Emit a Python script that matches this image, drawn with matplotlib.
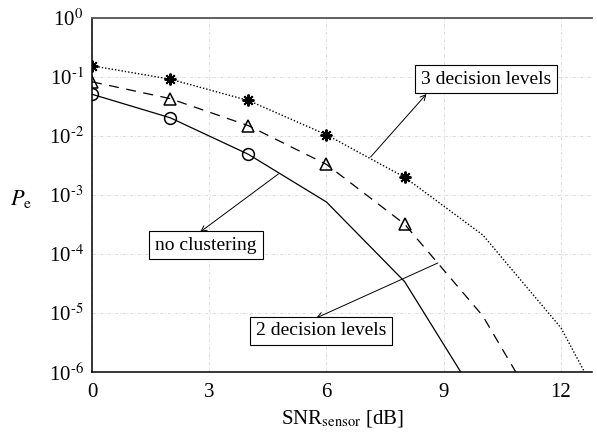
import numpy as np
import matplotlib
matplotlib.use('Agg')
import matplotlib.pyplot as plt
from matplotlib.ticker import FixedLocator, FixedFormatter

plt.rcParams['font.family'] = 'serif'
plt.rcParams['font.serif'] = ['Liberation Serif', 'DejaVu Serif']
plt.rcParams['mathtext.fontset'] = 'stix'

# data (Pe vs sensor SNR)
snr_noclust = [0, 2, 4, 6, 8, 10]
pe_noclust = [0.051, 0.0204, 0.0049, 7.6e-4, 3.4e-5, 2.5e-7]

snr_2lev = [0, 2, 4, 6, 8, 10, 12]
pe_2lev = [0.083, 0.043, 0.015, 3.3e-3, 3.2e-4, 8.9e-6, 5e-8]

snr_3lev = [0, 2, 4, 6, 8, 10, 12, 14]
pe_3lev = [0.155, 0.092, 0.040, 0.0105, 2.0e-3, 2.1e-4, 5.6e-6, 1.8e-8]

xticks = [0, 3, 6, 9, 12]
yticks = [1e0, 1e-1, 1e-2, 1e-3, 1e-4, 1e-5, 1e-6]
ylabels = [r'10$^{%s}$' % ('0' if e == 0 else r'\text{-}%d' % -e)
           for e in range(0, -7, -1)]

fig = plt.figure(figsize=(5.97, 4.34), dpi=100)
ax = fig.add_axes([0.154, 0.143, 0.838, 0.8155])

ax.plot(snr_noclust, pe_noclust, '-', color='k', lw=0.9,
        marker='o', ms=8.5, mfc='none', mew=1.1, markevery=[0, 1, 2])
ax.plot(snr_2lev, pe_2lev, color='k', lw=0.9, ls=(0, (8, 6)),
        marker='^', ms=8.5, mfc='none', mew=1.1, markevery=[0, 1, 2, 3, 4])
ax.plot(snr_3lev, pe_3lev, color='k', lw=1.0, ls=(0, (1, 1.4)),
        marker=(8, 2, 0), ms=8.5, mew=1.4, markevery=[0, 1, 2, 3, 4])

ax.set_yscale('log')
ax.set_xlim(0, 12.8)
ax.set_ylim(1e-6, 1e0)
ax.xaxis.set_major_locator(FixedLocator(xticks))
ax.yaxis.set_major_locator(FixedLocator(yticks))
ax.yaxis.set_major_formatter(FixedFormatter(ylabels))
ax.yaxis.set_minor_locator(FixedLocator([]))
ax.tick_params(length=0, labelsize=15)
ax.tick_params(axis='x', pad=8)
ax.tick_params(axis='y', pad=6)
ax.grid(True, color='#d8d8d8', lw=0.6, ls=(0, (4, 2, 1, 2)))

for s in ['left', 'bottom']:
    ax.spines[s].set_linewidth(1.1)
ax.spines['top'].set_color('#555555')
ax.spines['top'].set_linewidth(1.3)
ax.spines['right'].set_visible(False)

ax.set_xlabel(r'SNR$_{\mathrm{sensor}}$ [dB]', fontsize=15, labelpad=4)
ax.text(-0.142, 0.49, r'$P_{\mathrm{e}}$', transform=ax.transAxes,
        fontsize=16, ha='center', va='center')

box = dict(boxstyle='square,pad=0.3', fc='white', ec='k', lw=0.8)
arrow = dict(arrowstyle='->', color='k', lw=0.7, shrinkA=0, shrinkB=0)

ax.annotate('', xy=(8.56, 10**-1.288), xytext=(7.13, 10**-2.356),
            arrowprops=arrow)
ax.text(10.08, 10**-1.034, '3 decision levels', fontsize=14,
        ha='center', va='center', bbox=box)

ax.annotate('', xy=(2.77, 10**-3.627), xytext=(4.77, 10**-2.644),
            arrowprops=arrow)
ax.text(2.92, 10**-3.85, 'no clustering', fontsize=14,
        ha='center', va='center', bbox=box)

ax.annotate('', xy=(5.74, 10**-5.085), xytext=(8.85, 10**-4.153),
            arrowprops=arrow)
ax.text(5.87, 10**-5.305, '2 decision levels', fontsize=14,
        ha='center', va='center', bbox=box)

fig.savefig('out.png', dpi=100)
